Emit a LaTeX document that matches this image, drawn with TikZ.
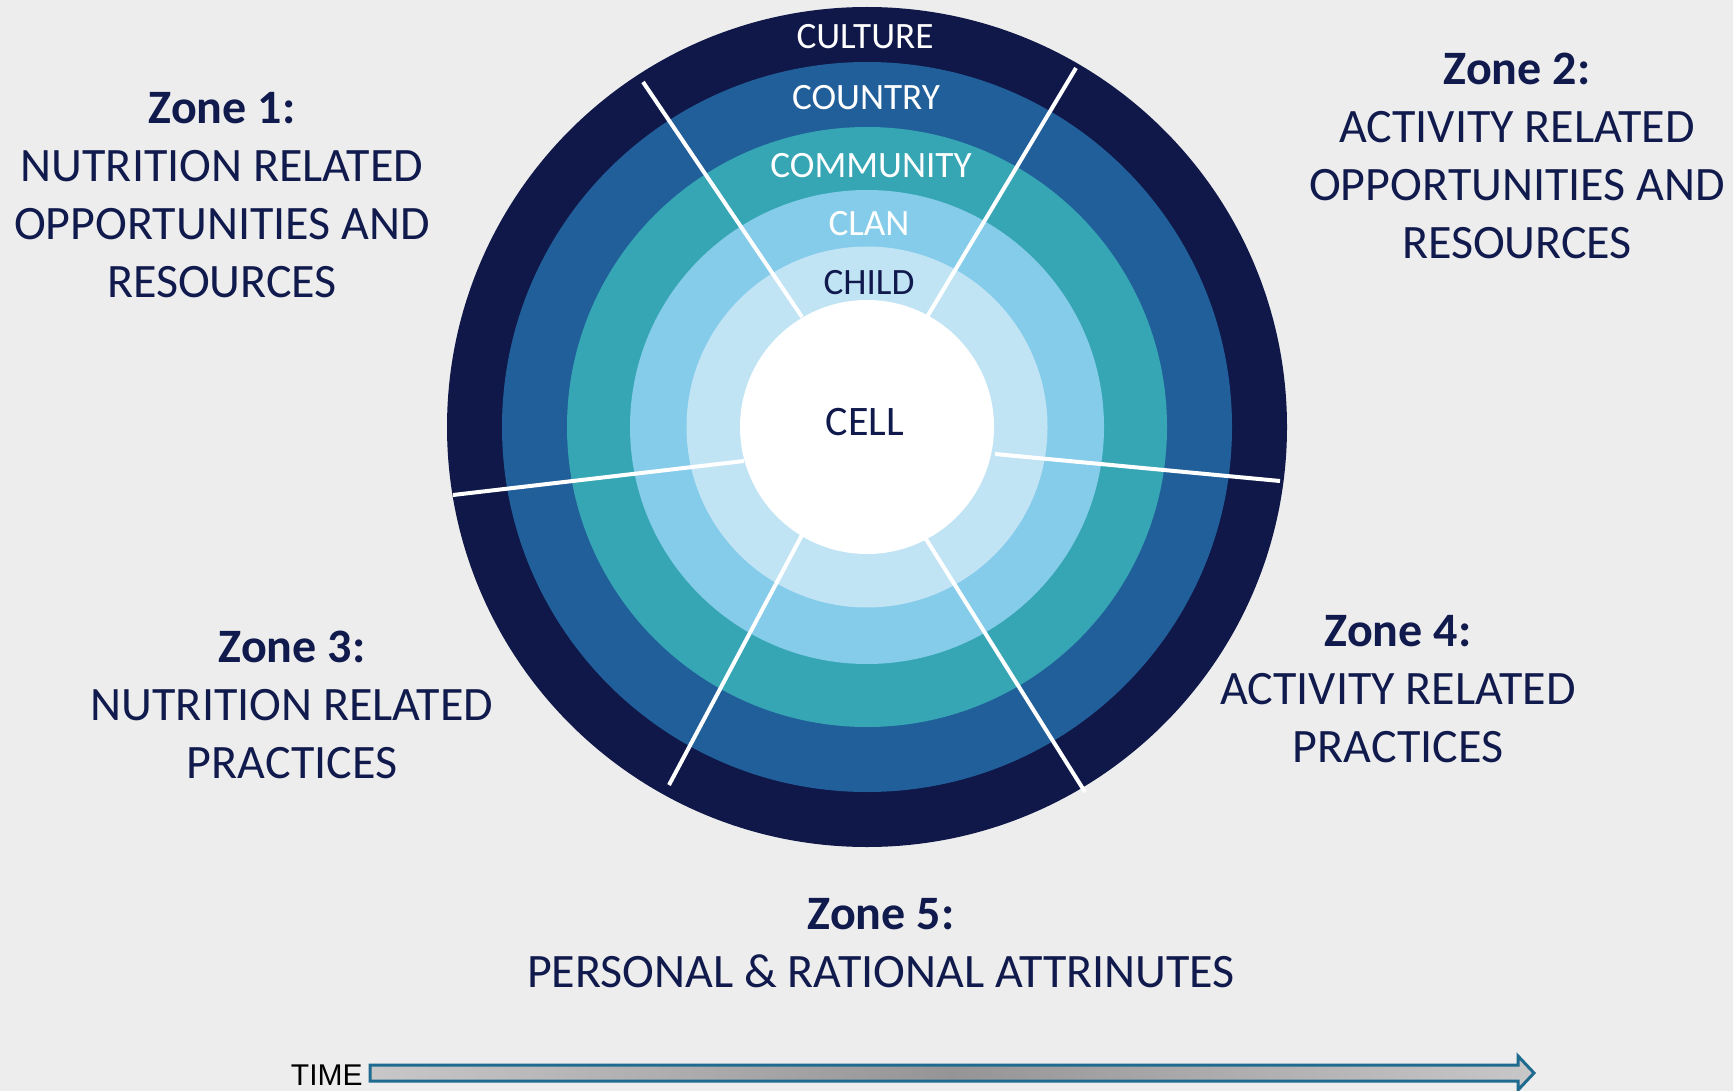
\documentclass[tikz,border=0pt]{standalone}
\usepackage{fontspec}
\setmainfont{Carlito}
\newfontfamily\timefont{Liberation Sans}
\definecolor{bgc}{HTML}{EDEDED}
\definecolor{navy}{HTML}{0F1848}
\definecolor{midblue}{HTML}{215F9A}
\definecolor{tealc}{HTML}{36A6B5}
\definecolor{lblue}{HTML}{85CBEA}
\definecolor{llblue}{HTML}{C1E4F5}
\definecolor{txt}{HTML}{101A4C}
\definecolor{arrowb}{HTML}{1F6A8F}
\definecolor{shlight}{HTML}{FAFAFA}
\definecolor{shdark}{HTML}{959595}
\pgfdeclarehorizontalshading{timeshade}{100bp}{color(0bp)=(shlight); color(50bp)=(shdark); color(100bp)=(shlight)}
\begin{document}
\begin{tikzpicture}[x=0.5pt,y=-0.5pt,
  ring/.style={text=white,font=\fontsize{18.6pt}{22pt}\selectfont},
  zone/.style={text=txt,align=center,font=\fontsize{24pt}{29pt}\selectfont},
  divider/.style={white,line width=2pt}]
\fill[bgc] (0,0) rectangle (1733,1091);
\useasboundingbox (0,0) rectangle (1733,1091);
\coordinate (c) at (867,427);
\fill[navy] (c) circle[radius=210pt];
\fill[midblue] (c) circle[radius=182.5pt];
\fill[tealc] (c) circle[radius=150pt];
\fill[lblue] (c) circle[radius=118.5pt];
\fill[llblue] (c) circle[radius=90.25pt];
\fill[white] (c) circle[radius=63.5pt];
% dividers
\coordinate (d1a) at (802,317); \coordinate (d1b) at (643,82);
\coordinate (d2a) at (927,317); \coordinate (d2b) at (1076,68);
\coordinate (d3a) at (995,454); \coordinate (d3b) at (1280,481);
\coordinate (d4a) at (926,539); \coordinate (d4b) at (1085,792);
\coordinate (d5a) at (802,535); \coordinate (d5b) at (669,785);
\coordinate (d6a) at (744,461); \coordinate (d6b) at (453,495);
\foreach \i in {1,...,6} \draw[divider] (d\i a) -- (d\i b);
% ring labels
\node[ring] (culture) at (865,37) {CULTURE};
\node[ring] (country) at (866,98) {COUNTRY};
\node[ring] (community) at (871,166) {COMMUNITY};
\node[ring] (clan) at (869,224) {CLAN};
\node[ring,text=txt] (child) at (869,283) {CHILD};
\node[text=txt,font=\fontsize{21pt}{25pt}\selectfont] (cell) at (865,422) {CELL};
% zones
\node[zone] (z1) at (222,195) {\textbf{Zone 1:}\\NUTRITION RELATED\\OPPORTUNITIES AND\\RESOURCES};
\node[zone] (z2) at (1517,156) {\textbf{Zone 2:}\\ACTIVITY RELATED\\OPPORTUNITIES AND\\RESOURCES};
\node[zone] (z3) at (292,705) {\textbf{Zone 3:}\\NUTRITION RELATED\\PRACTICES};
\node[zone] (z4) at (1398,689) {\textbf{Zone 4:}\\ACTIVITY RELATED\\PRACTICES};
\node[zone] (z5) at (881,943) {\textbf{Zone 5:}\\PERSONAL \& RATIONAL ATTRINUTES};
% time arrow
\node[anchor=east,inner sep=0pt,font=\timefont\fontsize{15pt}{18pt}\selectfont] (time) at (363,1075) {TIME};
\draw[arrowb,line width=1.5pt,shading=timeshade]
  (370,1065) -- (1518,1065) -- (1518,1056) -- (1534,1073) -- (1518,1090) -- (1518,1081) -- (370,1081) -- cycle;
\end{tikzpicture}
\end{document}
